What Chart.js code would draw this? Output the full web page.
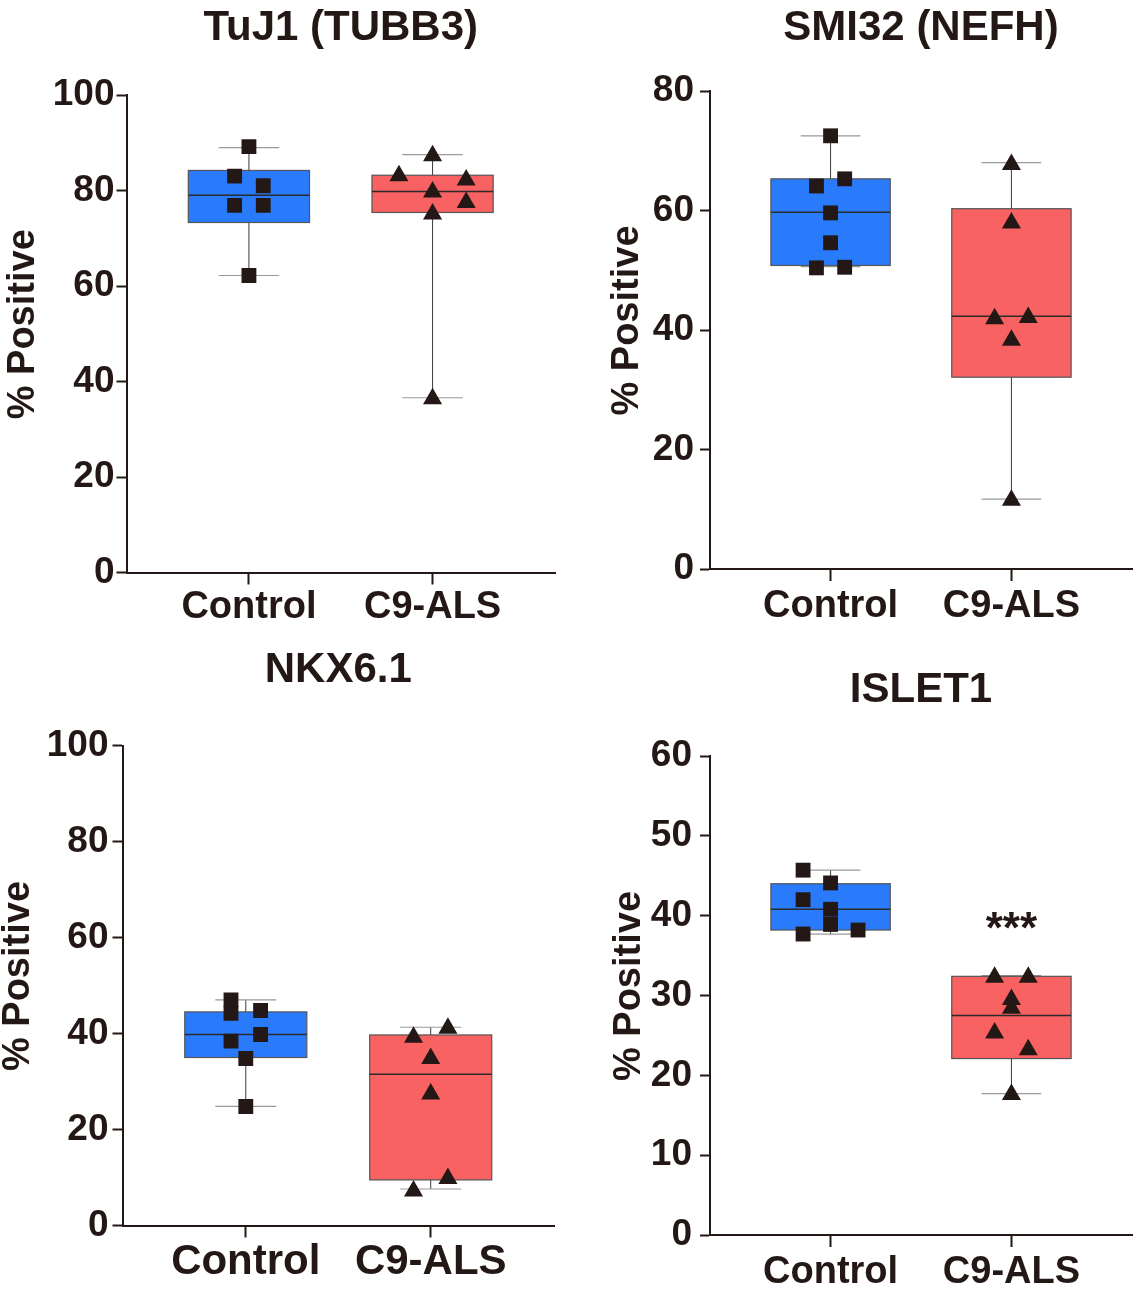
<!DOCTYPE html>
<html>
<head>
<meta charset="utf-8">
<script src="https://cdn.jsdelivr.net/npm/chart.js@4"></script>
<style>
  body { margin: 0; background: #fff; }
  .panel { position: absolute; }
</style>
</head>
<body>
<div class="panel" style="left:0;top:0"><canvas id="c1" width="570" height="640"></canvas></div>
<div class="panel" style="left:580px;top:0"><canvas id="c2" width="563" height="640"></canvas></div>
<div class="panel" style="left:0;top:640px"><canvas id="c3" width="570" height="649"></canvas></div>
<div class="panel" style="left:580px;top:640px"><canvas id="c4" width="563" height="649"></canvas></div>
<script>
const groups = ['Control', 'C9-ALS'];
const yTitle = '% Positive';

// box stats per group: [min, q1, median, q3, max]
const tuj1Box = [[62.2, 73.3, 79.0, 84.2, 89.0], [36.6, 75.4, 79.8, 83.2, 87.5]];
const tuj1Ctrl = [89.2, 83.0, 81.0, 76.9, 76.9, 62.2];
const tuj1CtrlDx = [0, -0.078, 0.078, -0.078, 0.078, 0];
const tuj1Als = [87.3, 83.1, 82.2, 79.7, 77.5, 75.1, 36.4];
const tuj1AlsDx = [0, -0.183, 0.183, 0, 0.183, 0, 0];

const smi32Box = [[50.6, 50.8, 59.7, 65.3, 72.5], [11.7, 32.1, 42.3, 60.3, 68.0]];
const smi32Ctrl = [72.5, 64.1, 65.3, 59.6, 54.6, 50.4, 50.5];
const smi32CtrlDx = [0, -0.078, 0.078, 0, 0, -0.078, 0.078];
const smi32Als = [67.7, 57.9, 41.9, 42.1, 38.3, 11.5];
const smi32AlsDx = [0, 0, -0.093, 0.093, 0, 0];

const nkxBox = [[24.8, 35.0, 39.8, 44.5, 47.0], [7.6, 9.5, 31.5, 39.7, 41.3]];
const nkxCtrl = [47.0, 44.2, 44.8, 39.8, 38.4, 34.8, 24.8];
const nkxCtrlDx = [-0.08, -0.08, 0.08, 0.08, -0.08, 0, 0];
const nkxAls = [39.2, 41.1, 34.8, 27.4, 9.8, 7.2];
const nkxAlsDx = [-0.093, 0.093, 0, 0, 0.093, -0.093];

const islBox = [[37.7, 38.2, 40.8, 44.0, 45.7], [17.7, 22.1, 27.5, 32.4, 32.5]];
const islCtrl = [45.7, 44.1, 42.0, 40.8, 38.9, 37.7, 38.2];
const islCtrlDx = [-0.152, 0, -0.152, 0, 0, -0.152, 0.152];
const islAls = [32.3, 32.3, 29.5, 28.4, 25.3, 23.2, 17.6];
const islAlsDx = [-0.093, 0.093, 0, 0, -0.093, 0.093, 0];
const islSig = { text: '***', group: 1, value: 39.7 };

const INK = '#231815';
const FONT = '"Liberation Sans", Arial, sans-serif';
const BOX_COLORS = ['#2a7bfc', '#f96262'];

const boxPlugin = {
  id: 'boxes',
  beforeDatasetsDraw(chart, args, opts) {
    const { ctx, scales: { x, y } } = chart;
    ctx.save();
    opts.stats.forEach((st, i) => {
      const [mn, q1, med, q3, mx] = st;
      const cx = x.getPixelForValue(i);
      const hw = x.getPixelForValue(i + 0.33) - cx;
      const cw = x.getPixelForValue(i + 0.165) - cx;
      // whisker stem
      ctx.strokeStyle = '#3a3a3a';
      ctx.lineWidth = 1;
      ctx.beginPath();
      ctx.moveTo(cx, y.getPixelForValue(mn));
      ctx.lineTo(cx, y.getPixelForValue(mx));
      ctx.stroke();
      // caps
      ctx.strokeStyle = '#9a9a9a';
      ctx.lineWidth = 1.2;
      [mn, mx].forEach(v => {
        const py = y.getPixelForValue(v);
        ctx.beginPath();
        ctx.moveTo(cx - cw, py);
        ctx.lineTo(cx + cw, py);
        ctx.stroke();
      });
      // box
      const top = y.getPixelForValue(q3), bot = y.getPixelForValue(q1);
      ctx.fillStyle = BOX_COLORS[i];
      ctx.fillRect(cx - hw, top, 2 * hw, bot - top);
      ctx.strokeStyle = '#555555';
      ctx.lineWidth = 1.2;
      ctx.strokeRect(cx - hw, top, 2 * hw, bot - top);
      // median
      ctx.strokeStyle = '#2a2a2a';
      ctx.lineWidth = 1.5;
      const pm = y.getPixelForValue(med);
      ctx.beginPath();
      ctx.moveTo(cx - hw, pm);
      ctx.lineTo(cx + hw, pm);
      ctx.stroke();
    });
    ctx.restore();
  },
  afterDatasetsDraw(chart, args, opts) {
    if (!opts.note) return;
    const { ctx, scales: { x, y } } = chart;
    ctx.save();
    ctx.fillStyle = INK;
    ctx.font = 'bold 44px ' + FONT;
    ctx.textAlign = 'center';
    ctx.textBaseline = 'alphabetic';
    ctx.fillText(opts.note.text, x.getPixelForValue(opts.note.group), y.getPixelForValue(opts.note.value) + 25);
    ctx.restore();
  }
};

function pts(vals, dx, g) {
  return vals.map((v, i) => ({ x: g + dx[i], y: v }));
}

function makePanel(id, title, stats, ctrl, ctrlDx, als, alsDx, yMax, yStep, lay, note) {
  new Chart(document.getElementById(id), {
    type: 'scatter',
    data: {
      datasets: [
        { data: pts(ctrl, ctrlDx, 0), pointStyle: 'rect', pointRadius: 10.5,
          backgroundColor: INK, borderWidth: 0 },
        { data: pts(als, alsDx, 1), pointStyle: 'triangle', pointRadius: 11,
          backgroundColor: INK, borderWidth: 0 }
      ]
    },
    options: {
      responsive: false,
      animation: false,
      devicePixelRatio: 1,
      layout: { padding: { left: 0, right: lay.padRight, top: 0, bottom: 0 } },
      plugins: {
        legend: { display: false },
        tooltip: { enabled: false },
        title: {
          display: true, text: title, color: INK, fullSize: false,
          font: { family: FONT, size: 42, weight: 'bold', lineHeight: 1.2 },
          padding: { top: lay.titleTop, bottom: lay.titleBottom }
        },
        boxes: { stats: stats, note: note }
      },
      scales: {
        x: {
          type: 'linear', min: -2 / 3, max: 5 / 3,
          afterBuildTicks: s => { s.ticks = [{ value: 0 }, { value: 1 }]; },
          afterFit: s => { s.height = lay.xHeight; },
          border: { display: true, color: INK, width: 2 },
          grid: { drawOnChartArea: false, drawTicks: true, tickLength: 12, tickWidth: 2, tickColor: INK },
          ticks: {
            callback: v => groups[v], color: INK, padding: lay.xPad, maxRotation: 0,
            font: { family: FONT, size: lay.xFont, weight: 'bold', lineHeight: 1 }
          }
        },
        y: {
          min: 0, max: yMax,
          afterFit: s => { s.width = lay.yWidth; },
          border: { display: true, color: INK, width: 2 },
          grid: { drawOnChartArea: false, drawTicks: true, tickLength: 10, tickWidth: 2, tickColor: INK },
          ticks: {
            stepSize: yStep, color: INK, padding: lay.yPad,
            font: { family: FONT, size: 37, weight: 'bold', lineHeight: 1 }
          },
          title: {
            display: true, text: '\u2002' + yTitle, color: INK,
            font: { family: FONT, size: 38, weight: 'bold', lineHeight: 1 },
            padding: { top: lay.yTitlePad, bottom: 0 }
          }
        }
      }
    },
    plugins: [boxPlugin]
  });
}

makePanel('c1', 'TuJ1 (TUBB3)', tuj1Box, tuj1Ctrl, tuj1CtrlDx, tuj1Als, tuj1AlsDx, 100, 20,
  { padRight: 15, titleTop: 2.8, titleBottom: 41.8, xHeight: 67.5, xPad: 4, xFont: 38, yWidth: 126.5, yPad: 2, yTitlePad: 5 });
makePanel('c2', 'SMI32 (NEFH)', smi32Box, smi32Ctrl, smi32CtrlDx, smi32Als, smi32AlsDx, 80, 20,
  { padRight: 4.5, titleTop: 2.8, titleBottom: 37.8, xHeight: 71, xPad: 7, xFont: 38, yWidth: 130, yPad: 6, yTitlePad: 29 });
makePanel('c3', 'NKX6.1', nkxBox, nkxCtrl, nkxCtrlDx, nkxAls, nkxAlsDx, 100, 20,
  { padRight: 16, titleTop: 4.8, titleBottom: 50.3, xHeight: 63.5, xPad: 4, xFont: 42, yWidth: 122.5, yPad: 4, yTitlePad: 0 });
makePanel('c4', 'ISLET1', islBox, islCtrl, islCtrlDx, islAls, islAlsDx, 60, 10,
  { padRight: 4.5, titleTop: 24.8, titleBottom: 40.8, xHeight: 54, xPad: 7, xFont: 38, yWidth: 130, yPad: 8, yTitlePad: 30.5 }, islSig);
</script>
</body>
</html>
